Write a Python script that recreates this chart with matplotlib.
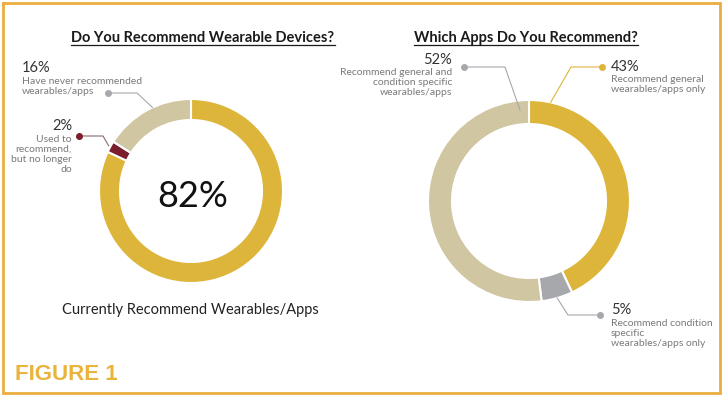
import matplotlib.pyplot as plt
import numpy as np

# --- data -------------------------------------------------------------
left_title = "Do You Recommend Wearable Devices?"
left_labels = ["Currently recommend",
               "Used to\nrecommend,\nbut no longer\ndo",
               "Have never recommended\nwearables/apps"]
left_values = [82, 2, 16]
left_center_text = "82%"
left_caption = "Currently Recommend Wearables/Apps"

right_title = "Which Apps Do You Recommend?"
right_labels = ["Recommend general\nwearables/apps only",
                "Recommend condition\nspecific\nwearables/apps only",
                "Recommend general and\ncondition specific\nwearables/apps"]
right_values = [43, 5, 52]

figure_label = "FIGURE 1"

# --- style ------------------------------------------------------------
GOLD = '#DDB53B'
BEIGE = '#D0C6A2'
MAROON = '#7A1E2E'
GREY = '#A6A8AB'
BORDER = '#EBAE3E'
FONT = 'Lato'

W, H = 725, 399


def Y(y):
    # pixel row (top = 0) -> axis y
    return H - y


def ring_point(cx, cy, values, idx, frac, r):
    # point on the ring at a fraction along wedge idx (clockwise from 12 o'clock)
    total = float(sum(values))
    start = sum(values[:idx]) / total
    pos = start + frac * values[idx] / total
    ang = np.deg2rad(90 - pos * 360)
    return cx + r * np.cos(ang), Y(cy) + r * np.sin(ang)


def leader(ax, dot, elbow, anchor, color, dot_color):
    xs = [dot[0], elbow[0], anchor[0]]
    ys = [Y(dot[1]), Y(elbow[1]), anchor[1]]
    ax.plot(xs, ys, color=color, lw=0.8, zorder=3)
    ax.plot(dot[0], Y(dot[1]), 'o', ms=4, color=dot_color, zorder=4)


def underlined_title(fig, ax, x, y, s):
    t = ax.text(x, Y(y), s, ha='center', va='baseline', fontsize=10.5,
                fontweight='bold', family=FONT, color='#1a1a1a')
    fig.canvas.draw()
    bb = t.get_window_extent().transformed(ax.transData.inverted())
    ax.plot([bb.x0, bb.x1], [Y(y + 3), Y(y + 3)], color='#1a1a1a', lw=0.9)


fig = plt.figure(figsize=(W / 100, H / 100), dpi=100)
ax = fig.add_axes([0, 0, 1, 1])

# left donut
lcx, lcy, lr = 191, 191, 92
ax.pie(left_values, colors=[GOLD, MAROON, BEIGE], radius=lr, center=(lcx, Y(lcy)),
       startangle=90, counterclock=False, explode=[0, 0.03, 0],
       wedgeprops=dict(width=21, edgecolor='white', linewidth=1.5), frame=True)

# right donut
rcx, rcy, rr = 529, 201, 101
ax.pie(right_values, colors=[GOLD, GREY, BEIGE], radius=rr, center=(rcx, Y(rcy)),
       startangle=90, counterclock=False,
       wedgeprops=dict(width=24, edgecolor='white', linewidth=1.5), frame=True)

ax.set_xlim(0, W)
ax.set_ylim(0, H)
ax.set_aspect('auto')
ax.axis('off')

# border
ax.plot([3, 720, 720, 3, 3], [Y(3), Y(3), Y(393), Y(393), Y(3)],
        color=BORDER, lw=2, solid_joinstyle='miter')

# titles
underlined_title(fig, ax, 203, 42, left_title)
underlined_title(fig, ax, 526, 42, right_title)

# left center text and caption
ax.text(lcx + 2, Y(207), left_center_text, ha='center', va='baseline', fontsize=26,
        family=FONT, color='#111111')
ax.text(190, Y(314), left_caption, ha='center', va='baseline', fontsize=10.5,
        family=FONT, color='#222222')

pct_kw = dict(va='baseline', fontsize=10.5, family=FONT, color='#333333')
lab_kw = dict(va='top', fontsize=7.5, family=FONT, color='#7a7a7a', linespacing=1.15)

# left labels
ax.text(22, Y(72), f"{left_values[2]}%", ha='left', **pct_kw)
ax.text(22, Y(77), left_labels[2], ha='left', **lab_kw)
leader(ax, (108, 93), (137, 93), ring_point(lcx, lcy, left_values, 2, 0.57, lr),
       GREY, GREY)

ax.text(72, Y(130), f"{left_values[1]}%", ha='right', **pct_kw)
ax.text(72, Y(135), left_labels[1], ha='right', multialignment='right', **lab_kw)
leader(ax, (79, 136), (103, 136), ring_point(lcx, lcy, left_values, 1, 0.5, lr + 2),
       '#8a6a70', MAROON)

# right labels
ax.text(452, Y(64), f"{right_values[2]}%", ha='right', **pct_kw)
ax.text(452, Y(68), right_labels[2], ha='right', multialignment='right', **lab_kw)
leader(ax, (464, 67), (505, 67), ring_point(rcx, rcy, right_values, 2, 0.97, rr - 10),
       GREY, GREY)

ax.text(611, Y(71), f"{right_values[0]}%", ha='left', **pct_kw)
ax.text(611, Y(75), right_labels[0], ha='left', **lab_kw)
leader(ax, (602, 67), (571, 67), ring_point(rcx, rcy, right_values, 0, 0.08, rr),
       GOLD, GOLD)

ax.text(611, Y(314), f"{right_values[1]}%", ha='left', **pct_kw)
ax.text(611, Y(319), right_labels[1], ha='left', **lab_kw)
leader(ax, (600, 315), (568, 315), ring_point(rcx, rcy, right_values, 1, 0.5, rr),
       GREY, GREY)

# figure label
ax.text(15, Y(380), figure_label, ha='left', va='baseline', fontsize=16,
        fontweight='bold', family='Liberation Sans', color='#E9B43C')

fig.savefig('out.png', dpi=100)
